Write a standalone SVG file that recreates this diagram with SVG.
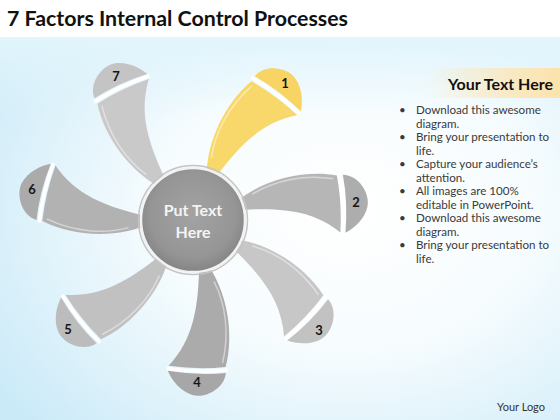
<svg xmlns="http://www.w3.org/2000/svg" width="560" height="420" viewBox="0 0 560 420">
<defs>
  <radialGradient id="bg" cx="0.62" cy="0.5" r="0.75">
    <stop offset="0" stop-color="#ffffff"/>
    <stop offset="0.45" stop-color="#f6fcfe"/>
    <stop offset="1" stop-color="#cbeaf8"/>
  </radialGradient>
  <linearGradient id="topband" x1="0" y1="0" x2="0" y2="1">
    <stop offset="0" stop-color="#e2f5fc" stop-opacity="1"/>
    <stop offset="1" stop-color="#e2f5fc" stop-opacity="0"/>
  </linearGradient>
  <linearGradient id="banner" x1="0" y1="0" x2="1" y2="0">
    <stop offset="0" stop-color="#fde6b4" stop-opacity="0"/>
    <stop offset="0.6" stop-color="#fde6b4" stop-opacity="0.75"/>
    <stop offset="1" stop-color="#fce2aa" stop-opacity="1"/>
  </linearGradient>
  <radialGradient id="hub" cx="0.5" cy="0.45" r="0.55">
    <stop offset="0" stop-color="#a3a3a3"/>
    <stop offset="0.75" stop-color="#959595"/>
    <stop offset="1" stop-color="#848484"/>
  </radialGradient>
  <path id="blade" d="M40,-10 C70,-32 115,-38 148,-28 Q150,0 145,29 C120,4 90,-3 40,-5 Z"/>
  <path id="cap" d="M154,-28 C170,-26 179,-6 175,6 C171,18 160,26 150,30 Q156,0 154,-28 Z"/>
  <path id="sep" d="M151,-30 Q153,0 147.5,31"/>
  <path id="hl" d="M62,-19 C85,-30 115,-33 144,-25"/>
</defs>
<style>
  .sep { fill: none; stroke: #ffffff; stroke-width: 3.5; }
  .hl { fill: none; stroke: #ffffff; stroke-width: 1.5; stroke-opacity: 0.45; }
  .num { font-family: Lato, "Liberation Sans", sans-serif; font-weight: bold; font-size: 13px; fill: #151515; text-anchor: middle; }
  .bul { font-family: Lato, "Liberation Sans", sans-serif; font-size: 11.6px; fill: #3a3a3a; }
</style>

<!-- background -->
<rect x="0" y="0" width="560" height="420" fill="url(#bg)"/>
<rect x="0" y="37" width="560" height="80" fill="url(#topband)"/>
<rect x="0" y="0" width="560" height="37" fill="#ffffff"/>
<text x="7" y="26" font-family="Lato, 'Liberation Sans', sans-serif" font-weight="bold" font-size="21" fill="#111111" textLength="341" lengthAdjust="spacingAndGlyphs">7 Factors Internal Control Processes</text>

<!-- petals -->
<g id="petal-1">
  <g transform="translate(193,220) rotate(-56.5)">
    <use href="#blade" fill="#f8d86b"/>
    <use href="#cap" fill="#f7d464"/>
    <use href="#sep" class="sep"/>
    <use href="#hl" class="hl"/>
  </g>
  <text class="num" x="285" y="88">1</text>
</g>
<g id="petal-2">
  <g transform="translate(193,220) rotate(-6.5)">
    <use href="#blade" fill="#b6b6b6"/>
    <use href="#cap" fill="#adadad"/>
    <use href="#sep" class="sep"/>
    <use href="#hl" class="hl"/>
  </g>
  <text class="num" x="356" y="207">2</text>
</g>
<g id="petal-3">
  <g transform="translate(193,220) rotate(40.7)">
    <use href="#blade" fill="#c7c7c7"/>
    <use href="#cap" fill="#c2c2c2"/>
    <use href="#sep" class="sep"/>
    <use href="#hl" class="hl"/>
  </g>
  <text class="num" x="319" y="335">3</text>
</g>
<g id="petal-4">
  <g transform="translate(193,220) rotate(88.2)">
    <use href="#blade" fill="#ababab"/>
    <use href="#cap" fill="#a7a7a7"/>
    <use href="#sep" class="sep"/>
    <use href="#hl" class="hl"/>
  </g>
  <text class="num" x="197" y="387">4</text>
</g>
<g id="petal-5">
  <g transform="translate(193,220) rotate(138.3)">
    <use href="#blade" fill="#c1c1c1"/>
    <use href="#cap" fill="#bcbcbc"/>
    <use href="#sep" class="sep"/>
    <use href="#hl" class="hl"/>
  </g>
  <text class="num" x="68" y="334">5</text>
</g>
<g id="petal-6">
  <g transform="translate(193,220) rotate(190.3)">
    <use href="#blade" fill="#b2b2b2"/>
    <use href="#cap" fill="#ababab"/>
    <use href="#sep" class="sep"/>
    <use href="#hl" class="hl"/>
  </g>
  <text class="num" x="32" y="194">6</text>
</g>
<g id="petal-7">
  <g transform="translate(193,220) rotate(241.3)">
    <use href="#blade" fill="#c9c9c9"/>
    <use href="#cap" fill="#c4c4c4"/>
    <use href="#sep" class="sep"/>
    <use href="#hl" class="hl"/>
  </g>
  <text class="num" x="116" y="81">7</text>
</g>

<!-- hub -->
<g id="hub-node">
  <circle cx="193" cy="220" r="54.5" fill="none" stroke="#c4c4c4" stroke-width="1.5"/>
  <circle cx="193" cy="220" r="52" fill="url(#hub)" stroke="#f2f2f2" stroke-width="2.5"/>
  <text x="193" y="216" font-family="Lato, 'Liberation Sans', sans-serif" font-weight="bold" font-size="16" fill="#f4f4f4" text-anchor="middle">Put Text</text>
  <text x="193" y="238" font-family="Lato, 'Liberation Sans', sans-serif" font-weight="bold" font-size="16" fill="#f4f4f4" text-anchor="middle">Here</text>
</g>

<g id="connectors"></g>

<!-- text panel -->
<g id="text-panel">
  <rect x="425" y="68" width="135" height="30" fill="url(#banner)"/>
  <text x="553" y="90" font-family="Lato, 'Liberation Sans', sans-serif" font-weight="bold" font-size="16" fill="#111111" text-anchor="end">Your Text Here</text>
  <g class="bul">
    <text x="399" y="114">•</text><text x="416" y="114">Download this awesome</text>
    <text x="416" y="127.5">diagram.</text>
    <text x="399" y="141">•</text><text x="416" y="141">Bring your presentation to</text>
    <text x="416" y="154.5">life.</text>
    <text x="399" y="168">•</text><text x="416" y="168">Capture your audience’s</text>
    <text x="416" y="181.5">attention.</text>
    <text x="399" y="195">•</text><text x="416" y="195">All images are 100%</text>
    <text x="416" y="208.5">editable in PowerPoint.</text>
    <text x="399" y="222">•</text><text x="416" y="222">Download this awesome</text>
    <text x="416" y="235.5">diagram.</text>
    <text x="399" y="249">•</text><text x="416" y="249">Bring your presentation to</text>
    <text x="416" y="262.5">life.</text>
  </g>
</g>

<text x="545" y="411" font-family="Lato, 'Liberation Sans', sans-serif" font-size="11" fill="#333333" text-anchor="end">Your Logo</text>
</svg>
